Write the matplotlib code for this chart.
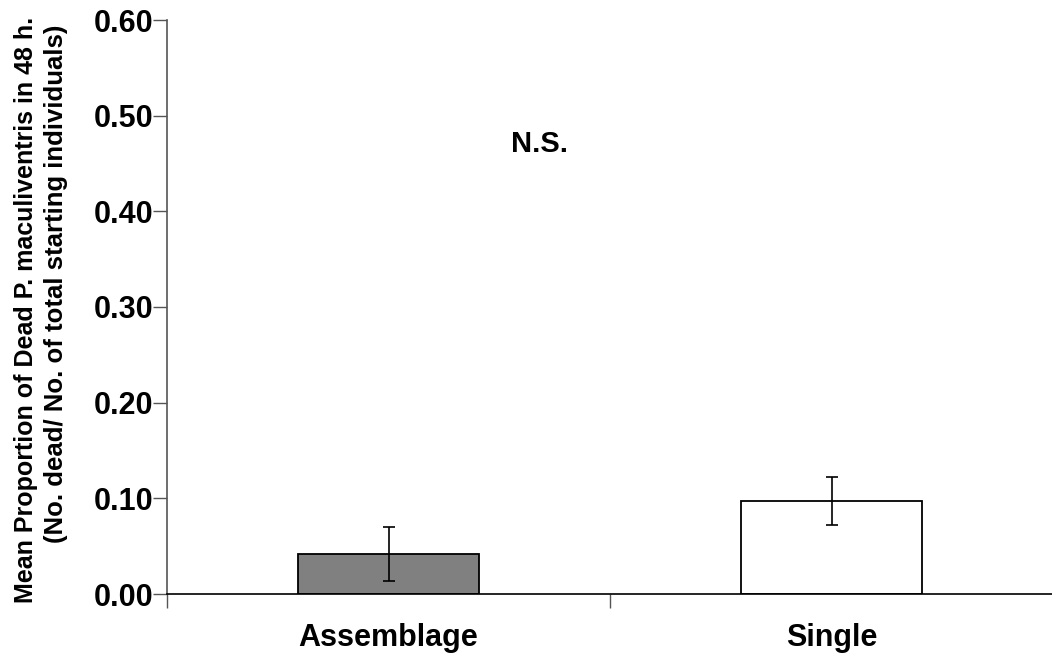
import matplotlib
matplotlib.use("Agg")
import matplotlib.pyplot as plt

categories = ["Assemblage", "Single"]
means = [0.042, 0.097]
errors = [0.028, 0.025]
bar_colors = ["#808080", "#ffffff"]
yticks = [0.0, 0.1, 0.2, 0.3, 0.4, 0.5, 0.6]

plt.rcParams["font.family"] = ["Liberation Sans", "DejaVu Sans"]

fig = plt.figure(figsize=(10.52, 6.61), dpi=100)
ax = fig.add_axes([167 / 1052, 1 - 594 / 661, 886 / 1052, 574 / 661])

x = list(range(len(categories)))
ax.bar(x, means, width=0.41, color=bar_colors, edgecolor="black", linewidth=1.3, zorder=2)
ax.errorbar(x, means, yerr=errors, fmt="none", ecolor="black", elinewidth=1.2,
            capsize=4.5, capthick=1.2, zorder=3)

ax.set_xlim(-0.5, 1.5)
ax.set_ylim(0, 0.6)
ax.set_yticks(yticks)
ax.set_yticklabels([f"{v:.2f}" for v in yticks], fontsize=22, fontweight="bold")
ax.set_xticks(x)
ax.set_xticklabels(categories, fontsize=22, fontweight="bold")
ax.set_xticks([-0.5, 0.5, 1.5], minor=True)
ax.tick_params(axis="x", which="major", length=0, pad=21)
ax.tick_params(axis="x", which="minor", length=10, width=1, color="#555555", direction="out")
ax.tick_params(axis="y", length=10, width=1, color="#555555", direction="out", pad=0)

for side in ("top", "right"):
    ax.spines[side].set_visible(False)
ax.spines["left"].set_color("#555555")
ax.spines["left"].set_linewidth(1.2)
ax.spines["bottom"].set_color("black")
ax.spines["bottom"].set_linewidth(1.2)
ax.spines["bottom"].set_zorder(4)

ax.text(0.34, 0.47, "N.S.", fontsize=21, fontweight="bold", ha="center", va="center")

fig.text(26 / 1052, 1 - 310 / 661, "Mean Proportion of Dead P. maculiventris in 48 h.",
         rotation=90, fontsize=18, fontweight="bold", ha="center", va="center")
fig.text(56 / 1052, 1 - 284 / 661, "(No. dead/ No. of total starting individuals)",
         rotation=90, fontsize=18.5, fontweight="bold", ha="center", va="center")

fig.savefig("out.png", dpi=100)
